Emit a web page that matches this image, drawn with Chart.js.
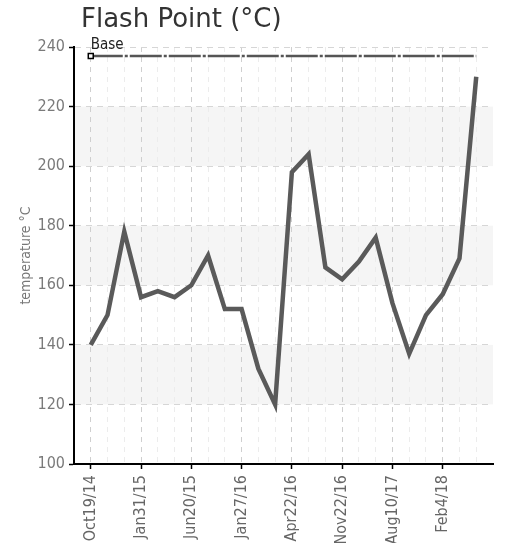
<!DOCTYPE html>
<html>
<head>
<meta charset="utf-8">
<script src="https://cdn.jsdelivr.net/npm/chart.js@4.4.0/dist/chart.umd.min.js"></script>
<style>
  html, body { margin: 0; padding: 0; background: #fff; }
  #wrap { width: 509px; height: 543px; position: relative; }
</style>
</head>
<body>
<div id="wrap"><canvas id="chart" width="509" height="543"></canvas></div>
<script>
// dates: only every third one is printed on the axis
const categories = [
    'Oct19/14', '', '', 'Jan31/15', '', '', 'Jun20/15', '', '',
    'Jan27/16', '', '', 'Apr22/16', '', '', 'Nov22/16', '', '',
    'Aug10/17', '', '', 'Feb4/18', '', ''
];
const flashPoint = [140, 150, 178, 156, 158, 156, 160, 170, 152, 152, 132, 120,
                    198, 204, 166, 162, 168, 176, 154, 137, 150, 157, 169, 230];
const baseLine = [237, 237, 237, 237, 237, 237, 237, 237, 237, 237, 237, 237,
                  237, 237, 237, 237, 237, 237, 237, 237, 237, 237, 237, 237];
const yTicks = [100, 120, 140, 160, 180, 200, 220, 240];

const chartTitle = 'Flash Point (\u00B0C)';
const narrow = "'DejaVu Sans Condensed', 'Liberation Sans Narrow', sans-serif";

// grey bands between every other pair of y ticks
const bandPlugin = {
    id: 'bands',
    beforeDraw(chart) {
        const { ctx, chartArea } = chart;
        const y = chart.scales.y;
        ctx.save();
        ctx.fillStyle = '#f5f5f5';
        for (let i = 1; i < yTicks.length - 1; i += 2) {
            const top = y.getPixelForValue(yTicks[i + 1]);
            const bottom = y.getPixelForValue(yTicks[i]);
            ctx.fillRect(chartArea.left, top, chartArea.right - chartArea.left, bottom - top);
        }
        ctx.restore();
    }
};

// title and the "Base" tag next to the first base point
const textPlugin = {
    id: 'texts',
    afterDraw(chart) {
        const { ctx, chartArea } = chart;
        ctx.save();
        ctx.fillStyle = '#333';
        ctx.font = "26px 'DejaVu Sans', sans-serif";
        ctx.textBaseline = 'alphabetic';
        ctx.fillText(chartTitle, chartArea.left + 7, 27);

        const pt = chart.getDatasetMeta(1).data[0];
        ctx.fillStyle = '#222';
        ctx.font = '15px ' + narrow;
        ctx.fillText('Base', pt.x, pt.y - 7);
        ctx.restore();
    }
};

const ctx = document.getElementById('chart').getContext('2d');
new Chart(ctx, {
    type: 'line',
    data: {
        datasets: [{
            label: 'Flash Point',
            data: flashPoint.map((v, i) => ({ x: i, y: v })),
            borderColor: '#5a5a5a',
            borderWidth: 4.5,
            pointRadius: 0,
            tension: 0
        }, {
            label: 'Base',
            data: baseLine.map((v, i) => ({ x: i, y: v })),
            borderColor: '#555',
            borderWidth: 2.5,
            borderDash: [32, 2, 3, 2],
            pointStyle: 'rect',
            pointRadius: c => c.dataIndex === 0 ? 3.5 : 0,
            pointBackgroundColor: '#fff',
            pointBorderColor: '#000',
            pointBorderWidth: 1.5,
            tension: 0
        }]
    },
    options: {
        responsive: false,
        animation: false,
        layout: { padding: { top: 47, right: 16, left: 0, bottom: 0 } },
        plugins: {
            legend: { display: false },
            tooltip: { enabled: false },
            title: { display: false }
        },
        scales: {
            x: {
                type: 'linear',
                min: -1,
                max: categories.length,
                afterFit: s => { s.height = 79; s.paddingRight = 0; s.paddingLeft = 0; },
                border: { color: '#000', width: 2, dash: [5, 5] },
                grid: {
                    color: c => {
                        const v = c.tick.value;
                        if (v < 0 || v >= categories.length) return 'rgba(0,0,0,0)';
                        return categories[v] ? '#cfcfcf' : '#ececec';
                    },
                    tickColor: c => categories[c.tick.value] ? '#000' : 'rgba(0,0,0,0)',
                    tickLength: 5,
                    tickWidth: 1.5,
                    tickBorderDash: []
                },
                ticks: {
                    stepSize: 1,
                    maxTicksLimit: 40,
                    autoSkip: false,
                    minRotation: 90,
                    maxRotation: 90,
                    padding: 6,
                    color: '#666',
                    font: { family: narrow, size: 16 },
                    callback: v => categories[v] || ''
                }
            },
            y: {
                min: yTicks[0],
                max: yTicks[yTicks.length - 1],
                afterFit: s => { s.width = 74; },
                border: { color: '#000', width: 2, dash: [6, 5] },
                grid: {
                    color: '#d6d6d6',
                    tickColor: '#000',
                    tickLength: 5,
                    tickWidth: 1.5,
                    tickBorderDash: []
                },
                ticks: {
                    stepSize: 20,
                    padding: 4,
                    color: '#7a7a7a',
                    font: { family: narrow, size: 16 }
                },
                title: {
                    display: true,
                    text: 'temperature \u00B0C',
                    color: '#777',
                    font: { family: narrow, size: 14 },
                    padding: { top: 18, bottom: 0 }
                }
            }
        }
    },
    plugins: [bandPlugin, textPlugin]
});
</script>
</body>
</html>
